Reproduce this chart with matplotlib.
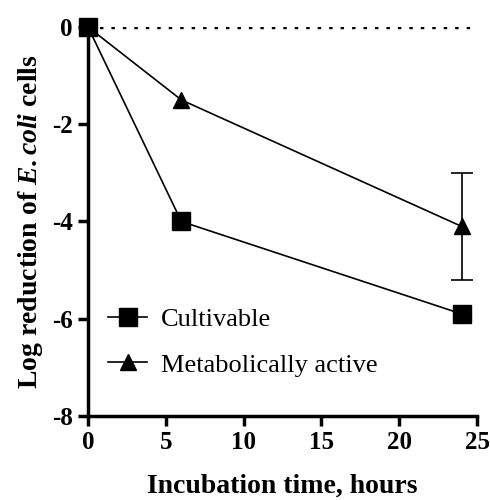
import matplotlib.pyplot as plt
from matplotlib.lines import Line2D

# --- Data ---
hours = [0, 6, 24]
cultivable = [0, -4.0, -5.9]
metabolic = [0, -1.5, -4.1]
err_hours = [24]
err_value = [-4.1]
err_size = [1.1]

plt.rcParams['font.family'] = ['Liberation Serif', 'DejaVu Serif']
plt.rcParams['axes.unicode_minus'] = False
plt.rcParams['mathtext.fontset'] = 'custom'
plt.rcParams['mathtext.rm'] = 'Liberation Serif:bold'
plt.rcParams['mathtext.bf'] = 'Liberation Serif:bold'
plt.rcParams['mathtext.it'] = 'Liberation Serif:bold:italic'
plt.rcParams['mathtext.bfit'] = 'Liberation Serif:bold:italic'

fig = plt.figure(figsize=(4.9, 5.0), dpi=100)
ax = fig.add_axes([0.1796, 0.168, 0.794, 0.778])

# dotted reference line at zero
ax.axhline(0, color='black', linestyle=(0, (1, 2.3)), linewidth=2.5, zorder=1)

ax.errorbar(err_hours, err_value, yerr=err_size, fmt='none', ecolor='black',
            elinewidth=1.2, capsize=8, capthick=1.2, zorder=2)
ax.plot(hours, metabolic, color='black', marker='^', markersize=12,
        linewidth=1.2, zorder=3, clip_on=False)
ax.plot(hours, cultivable, color='black', marker='s', markersize=13,
        linewidth=1.2, zorder=4, clip_on=False)

ax.set_xlim(0, 25)
ax.set_ylim(-8, 0)
ax.set_xticks([0, 5, 10, 15, 20, 25])
ax.set_yticks([0, -2, -4, -6, -8])

for side in ['top', 'right']:
    ax.spines[side].set_visible(False)
for side in ['left', 'bottom']:
    ax.spines[side].set_linewidth(2.5)
ax.tick_params(direction='out', length=7, width=2.5, labelsize=18, pad=4)
for lab in ax.get_xticklabels() + ax.get_yticklabels():
    lab.set_fontweight('bold')

ax.set_xlabel('Incubation time, hours', fontsize=20, fontweight='bold', labelpad=14)
ax.set_ylabel(r'Log reduction of $\mathit{E.coli}$ cells', fontsize=20,
              fontweight='bold', labelpad=5)

handles = [
    Line2D([], [], color='black', marker='s', markersize=13, linewidth=1.2),
    Line2D([], [], color='black', marker='^', markersize=12, linewidth=1.2),
]
ax.legend(handles, ['Cultivable', 'Metabolically active'], loc='lower left',
          bbox_to_anchor=(-0.01, 0.04), frameon=False, fontsize=19,
          handlelength=1.5, labelspacing=0.85, handletextpad=0.5)

fig.savefig('out.png')
plt.close()
